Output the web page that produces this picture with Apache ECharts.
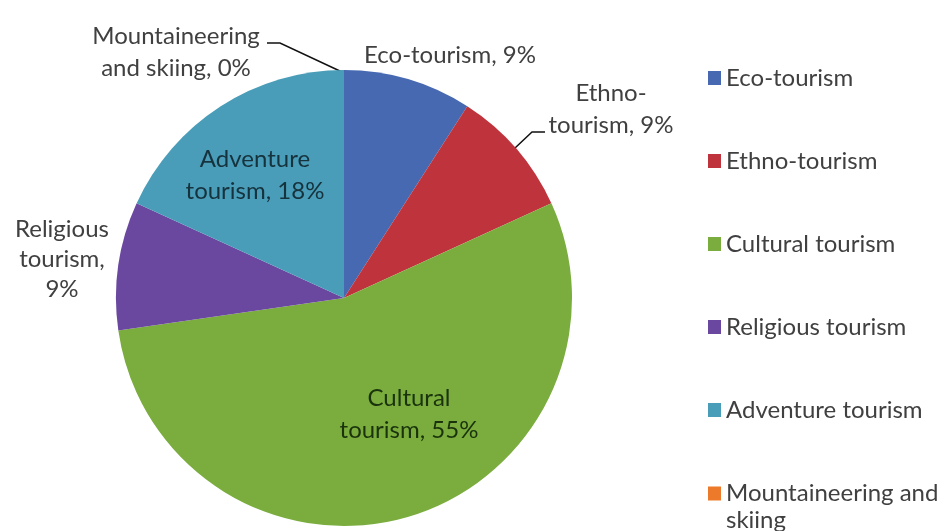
<!DOCTYPE html>
<html>
<head>
<meta charset="utf-8">
<script src="https://cdn.jsdelivr.net/npm/echarts@6/dist/echarts.min.js"></script>
<style>
html,body{margin:0;padding:0;background:#fff;}
#chart{width:952px;height:531px;}
</style>
</head>
<body>
<div id="chart"></div>
<script>
// ---- data ----
const categories = ['Eco-tourism', 'Ethno-tourism', 'Cultural tourism', 'Religious tourism', 'Adventure tourism', 'Mountaineering and skiing'];
const labelTexts = ['Eco-tourism', 'Ethno-\ntourism', 'Cultural\ntourism', 'Religious\ntourism,\n', 'Adventure\ntourism', 'Mountaineering\nand skiing'];
const values = [1, 1, 6, 1, 2, 0];

// ---- styling / layout ----
const colors = ['#4669b2', '#bf343c', '#7aad3e', '#6a48a0', '#4a9db8', '#ec7a2a'];
const FONT = 'Lato';
const placement = [
  { x: 450, y: 55 },
  { x: 611, y: 109, line: [[515, 148], [532, 132], [545, 132]] },
  { x: 409, y: 414 },
  { x: 62, y: 259 },
  { x: 255, y: 175 },
  { x: 176, y: 52, line: [[342, 72], [280, 43], [267, 43]] }
];
const insideIdx = [2, 4];
const insideColors = { 2: '#1a330c', 4: '#15323d' };

const chart = echarts.init(document.getElementById('chart'), null, { renderer: 'canvas' });

const data = categories.map((name, i) => {
  const inside = insideIdx.indexOf(i) >= 0;
  return {
    name: name,
    value: values[i],
    itemStyle: { color: colors[i] },
    label: {
      show: true,
      position: inside ? 'inside' : 'outside',
      color: inside ? insideColors[i] : '#404040',
      lineHeight: i === 3 ? 30 : 32
    },
    labelLine: { show: !!placement[i].line, length: 10, length2: 10, lineStyle: { color: '#111', width: 1.5 } }
  };
});

const total = values.reduce((a, b) => a + b, 0);

chart.setOption({
  animation: false,
  color: colors,
  legend: {
    orient: 'vertical',
    left: 703,
    top: 58,
    height: 560,
    itemWidth: 13,
    itemHeight: 14,
    itemGap: 53,
    icon: 'rect',
    data: categories,
    formatter: function (name) {
      return name === 'Mountaineering and skiing'
        ? '{a|Mountaineering and}\n{b|skiing}'
        : name;
    },
    textStyle: {
      fontFamily: FONT, fontSize: 24, color: '#404040', lineHeight: 30,
      rich: {
        a: { fontFamily: FONT, fontSize: 24, color: '#404040', lineHeight: 30 },
        b: { fontFamily: FONT, fontSize: 24, color: '#404040', lineHeight: 1, verticalAlign: 'top' }
      }
    }
  },
  series: [{
    type: 'pie',
    center: [344, 298],
    radius: 228,
    startAngle: 90,
    clockwise: true,
    avoidLabelOverlap: false,
    minShowLabelAngle: 0,
    stillShowZeroSum: true,
    label: {
      fontFamily: FONT,
      fontSize: 24,
      formatter: function (p) {
        const pct = Math.round(p.value / total * 100) + '%';
        const t = labelTexts[p.dataIndex];
        if (p.dataIndex === 3) return t + pct;
        return t + ', ' + pct;
      }
    },
    labelLayout: function (params) {
      const p = placement[params.dataIndex];
      const r = { x: p.x, y: p.y, align: 'center', verticalAlign: 'middle' };
      if (p.line) r.labelLinePoints = p.line;
      return r;
    },
    itemStyle: { borderWidth: 0 },
    data: data
  }]
});
</script>
</body>
</html>
